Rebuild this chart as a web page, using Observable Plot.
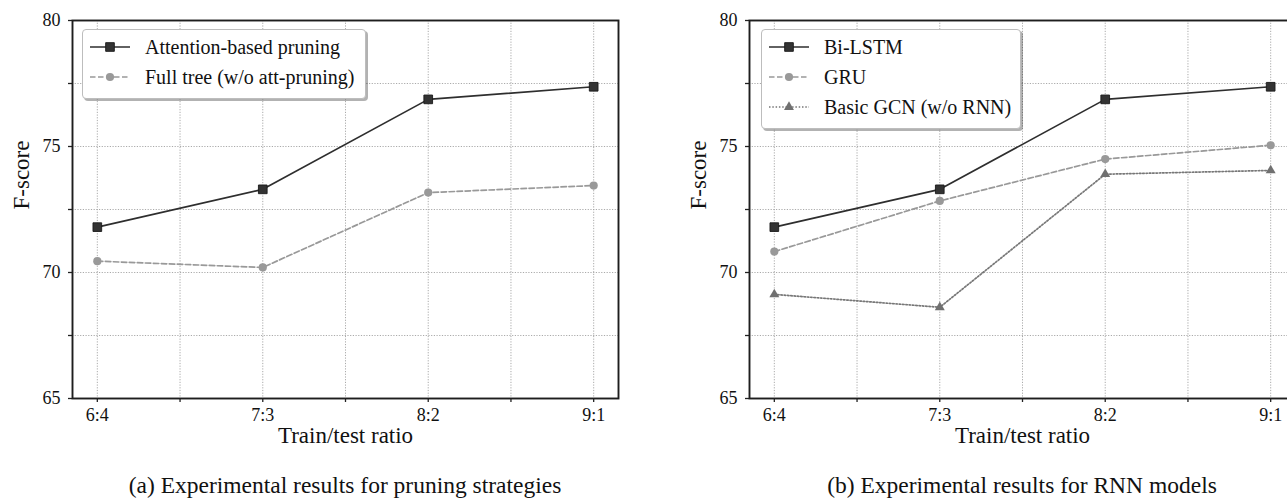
<!DOCTYPE html>
<html>
<head>
<meta charset="utf-8">
<script src="https://cdn.jsdelivr.net/npm/d3@7"></script>
<script src="https://cdn.jsdelivr.net/npm/@observablehq/plot@0.6"></script>
<style>
  html, body { margin: 0; padding: 0; background: #fff; width: 1287px; height: 500px; overflow: hidden; }
  body { position: relative; font-family: "Liberation Serif", "Times New Roman", serif; }
  .panel { position: absolute; top: 0; width: 640px; }
  .caption { position: absolute; top: 472px; width: 546px; text-align: center; font-size: 23.5px; line-height: 26px; color: #111; white-space: nowrap; }
  .legend { position: absolute; top: 29px; background: #fff; border: 1px solid #bdbdbd; border-radius: 4px;
            box-shadow: 2px 2px 0 rgba(0,0,0,0.3); padding: 2px 8px 6px 7px; box-sizing: border-box; }
  .legend .row { height: 30px; display: flex; align-items: center; font-size: 20px; color: #111; white-space: nowrap; font-family: "Liberation Serif", serif; }
  .legend svg { margin-right: 15px; flex: none; }
</style>
</head>
<body>
<script>
// ---- data ----
const categories = ["6:4", "7:3", "8:2", "9:1"];
const attentionPruning = [71.8, 73.3, 76.87, 77.37];
const fullTree = [70.45, 70.2, 73.17, 73.45];
const biLSTM = [71.8, 73.3, 76.87, 77.37];
const gru = [70.83, 72.84, 74.5, 75.05];
const basicGCN = [69.13, 68.62, 73.9, 74.05];
const seriesNamesA = ["Attention-based pruning", "Full tree (w/o att-pruning)"];
const seriesNamesB = ["Bi-LSTM", "GRU", "Basic GCN (w/o RNN)"];
const yTickLabels = [65, 70, 75, 80];
const yMinorTicks = [67.5, 72.5, 77.5];
const xMinorTicks = [0.5, 1.5, 2.5];
const captionA = "(a) Experimental results for pruning strategies";
const captionB = "(b) Experimental results for RNN models";
const xLabel = "Train/test ratio";
const yLabel = "F-score";

// ---- styles ----
const styles = {
  solid:  {stroke: "#2e2e2e", dash: null, symbol: "square", fill: "#333", r: 4.9},
  dashed: {stroke: "#999", dash: "5.5,2.5", symbol: "circle", fill: "#999", r: 4.1},
  dotted: {stroke: "#777", dash: "1.5,1.8", symbol: "triangle", fill: "#707070", r: 3.7}
};

function table(values) {
  return categories.map((c, i) => ({cat: c, idx: i, value: values[i]}));
}

function panel(series) {
  const marks = [
    Plot.gridX(d3.range(categories.length).concat(xMinorTicks), {stroke: "#a0a0a0", strokeOpacity: 1, strokeWidth: 0.9, strokeDasharray: "1.2,1.5"}),
    Plot.gridY(yTickLabels.concat(yMinorTicks), {stroke: "#a0a0a0", strokeOpacity: 1, strokeWidth: 0.9, strokeDasharray: "1.2,1.5"}),
    Plot.axisX(d3.range(categories.length), {tickFormat: i => categories[i], tickSize: 4, tickPadding: 6, fontSize: 18, label: null, stroke: "#222", strokeWidth: 1.3, fontFamily: "Liberation Serif"}),
    Plot.axisX(xMinorTicks, {tickFormat: () => "", tickSize: 4, label: null, stroke: "#222", strokeWidth: 1.3}),
    Plot.axisY(yTickLabels, {tickSize: 4, tickPadding: 8, fontSize: 18, label: null, stroke: "#222", strokeWidth: 1.3, fontFamily: "Liberation Serif"}),
    Plot.axisY(yMinorTicks, {tickFormat: () => "", tickSize: 4, label: null, stroke: "#222", strokeWidth: 1.3})
  ];
  for (const s of series) {
    const st = styles[s.style];
    const data = table(s.values);
    marks.push(Plot.line(data, {x: "idx", y: "value", stroke: st.stroke, strokeWidth: 1.7, strokeDasharray: st.dash}));
    marks.push(Plot.dot(data, {x: "idx", y: "value", symbol: () => st.symbol, fill: st.fill, stroke: st.symbol === "square" ? "#1a1a1a" : "none", strokeWidth: 0.9, r: st.r}));
  }
  marks.push(Plot.frame({stroke: "#1e1e1e", strokeWidth: 1.9}));
  marks.push(Plot.text([xLabel], {frameAnchor: "bottom", dy: 44, fontSize: 23, fill: "#111", fontFamily: "Liberation Serif"}));
  marks.push(Plot.text([yLabel], {frameAnchor: "left", dx: -51, rotate: -90, fontSize: 23, fill: "#111", fontFamily: "Liberation Serif"}));
  return Plot.plot({
    width: 640, height: 460,
    marginLeft: 72, marginRight: 22, marginTop: 20, marginBottom: 62,
    x: {domain: [-0.15, 3.15]},
    y: {domain: [65, 80]},
    symbol: {type: "identity"},
    style: {fontFamily: "'Liberation Serif', serif", fontSize: "18px", color: "#111", background: "#fff", overflow: "visible"},
    marks
  });
}

function sampleSvg(st) {
  const ns = "http://www.w3.org/2000/svg";
  const svg = document.createElementNS(ns, "svg");
  svg.setAttribute("width", 40); svg.setAttribute("height", 14);
  const line = document.createElementNS(ns, "line");
  line.setAttribute("x1", 0); line.setAttribute("x2", 40); line.setAttribute("y1", 7); line.setAttribute("y2", 7);
  line.setAttribute("stroke", st.stroke); line.setAttribute("stroke-width", 1.7);
  if (st.dash) line.setAttribute("stroke-dasharray", st.dash);
  svg.appendChild(line);
  const sym = {square: d3.symbolSquare, circle: d3.symbolCircle, triangle: d3.symbolTriangle}[st.symbol];
  const path = document.createElementNS(ns, "path");
  path.setAttribute("d", d3.symbol(sym, Math.PI * st.r * st.r)());
  path.setAttribute("transform", "translate(20,7)");
  path.setAttribute("fill", st.fill);
  if (st.symbol === "square") { path.setAttribute("stroke", "#1a1a1a"); path.setAttribute("stroke-width", 0.9); }
  svg.appendChild(path);
  return svg;
}

function legend(names, styleKeys, left, width) {
  const div = document.createElement("div");
  div.className = "legend";
  div.style.left = left + "px";
  div.style.width = width + "px";
  names.forEach((n, i) => {
    const row = document.createElement("div");
    row.className = "row";
    row.appendChild(sampleSvg(styles[styleKeys[i]]));
    row.appendChild(document.createTextNode(n));
    div.appendChild(row);
  });
  return div;
}

function addPanel(left, series, names, caption, legLeft, legWidth) {
  const wrap = document.createElement("div");
  wrap.className = "panel";
  wrap.style.left = left + "px";
  wrap.appendChild(panel(series));
  document.body.appendChild(wrap);
  document.body.appendChild(legend(names, series.map(s => s.style), legLeft, legWidth));
  const cap = document.createElement("div");
  cap.className = "caption";
  cap.style.left = (left + 72) + "px";
  cap.textContent = caption;
  document.body.appendChild(cap);
}

addPanel(0, [
  {values: attentionPruning, style: "solid"},
  {values: fullTree, style: "dashed"}
], seriesNamesA, captionA, 82, 284);

addPanel(677, [
  {values: biLSTM, style: "solid"},
  {values: gru, style: "dashed"},
  {values: basicGCN, style: "dotted"}
], seriesNamesB, captionB, 761, 260);
</script>
</body>
</html>
